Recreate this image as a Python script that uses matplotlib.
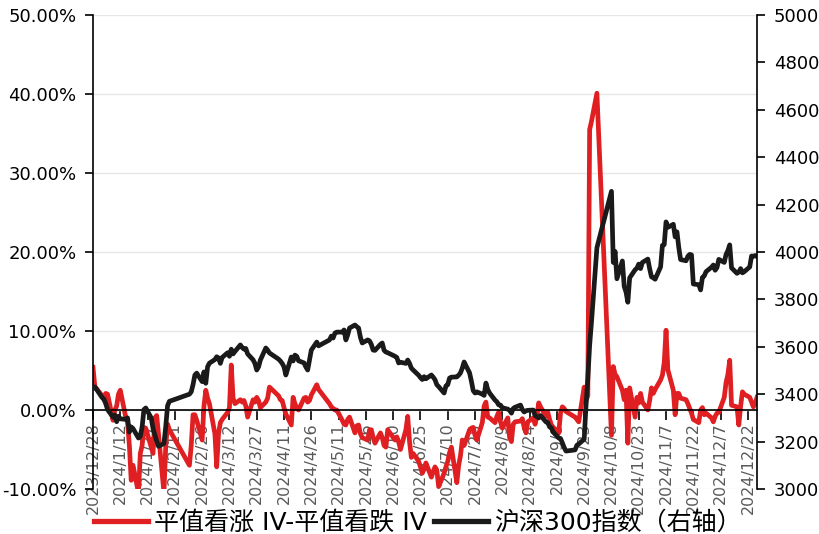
import matplotlib
matplotlib.use("Agg")
import matplotlib.pyplot as plt
import pandas as pd
import numpy as np

# ---------------- data ----------------
holidays = ["2024-01-01", "2024-02-09", "2024-02-12", "2024-02-13", "2024-02-14",
            "2024-02-15", "2024-02-16", "2024-04-04", "2024-04-05", "2024-05-01",
            "2024-05-02", "2024-05-03", "2024-06-10", "2024-09-16", "2024-09-17",
            "2024-10-01", "2024-10-02", "2024-10-03", "2024-10-04", "2024-10-07"]

start_date = "2023-12-28"
end_date = "2024-12-27"

# ATM call IV minus ATM put IV (%), by month
iv_dec23 = [5.4, 3.0]
iv_jan = [1.8, 1.3, 2.1, 2.0, -1.3, 0.0, 0.5, 2.0, 2.5, -0.9, -1.6, -4.5, -8.9, -7.0,
          -10.5, -5.5, -4.5, -2.2, -2.3, -4.7, -5.5, -1.0]
iv_feb = [-0.7, -3.0, -10.5, -4.5, -1.8, -2.5, -7.0, -4.5, -0.6, -0.6, -1.3, -3.8, 0.5, 2.5, 1.5]
iv_mar = [0.8, -3.0, -7.2, -3.0, -1.6, -1.2, -0.3, 0.3, 5.7, 1.5, 0.8, 1.3, 1.0, 1.2, 0.5,
          -0.9, 1.3, 1.0, 1.6, 1.2, 0.3]
iv_apr = [1.0, 1.5, 2.9, 1.8, 1.3, 1.2, 0.3, -0.5, -1.9, 1.6, 0.8, 0.2, 0.0, 1.5, 1.6,
          1.0, 1.2, 1.9, 3.2, 2.6]
iv_may = [0.8, 0.4, 0.2, 0.0, 0.0, -1.3, -1.8, -1.9, -1.2, -0.9, -2.9, -2.0, -1.9, -3.0,
          -3.5, -3.8, -2.5, -2.5, -3.5, -4.2]
iv_jun = [-2.9, -3.5, -4.5, -4.7, -2.5, -3.8, -3.4, -4.0, -5.0, -2.5, -0.8, -4.0, -6.0,
          -5.5, -6.5, -7.2, -8.0, -7.5, -6.7]
iv_jul = [-8.5, -7.8, -7.2, -7.6, -9.7, -8.0, -7.2, -6.5, -5.4, -4.7, -9.2, -7.0, -5.8,
          -3.8, -4.5, -2.5, -2.3, -2.2, -3.2, -3.8, -1.6, 0.5, 1.0]
iv_aug = [-0.9, -1.0, -1.6, -0.8, -0.3, -1.5, -2.3, -1.0, -3.5, -4.0, -1.8, -1.5, -1.4,
          -1.1, -2.2, -2.9, -1.5, -1.0, -1.8, -0.8, 0.9, 0.4]
iv_sep = [-0.8, -0.3, -1.2, -1.9, -2.2, -2.9, -0.4, 0.4, 0.2, -0.2, -0.9, -1.2, -1.5,
          2.9, 1.2, 1.8, 35.5, 36.5, 40.1]
iv_oct = [-3.2, 5.5, 4.5, 4.2, 2.5, 1.3, 2.5, -4.2, 2.8, -0.9, 1.6, 0.9, 2.1, 1.0, 0.0,
          1.2, 2.8, 2.1]
iv_nov = [2.6, 3.8, 4.4, 6.0, 10.1, 5.1, 2.5, -0.6, 2.1, 2.1, 1.5, 1.3, 0.8, 0.2, -0.4,
          -1.2, -1.6, 0.0, 0.3, -0.6, -0.4]
iv_dec = [-1.0, -1.5, -0.8, -0.4, -0.3, 1.6, 3.5, 4.5, 6.3, 0.6, 0.4, -1.9, 0.5, 2.3,
          2.0, 1.6, 1.0, 0.4, 0.8, 1.6]

# CSI 300 index (right axis), by month
hs_dec23 = [3425, 3431]
hs_jan = [3386, 3379, 3360, 3335, 3303, 3312, 3284, 3307, 3296, 3294, 3300, 3240, 3262,
          3255, 3215, 3222, 3262, 3335, 3342, 3300, 3255, 3228]
hs_feb = [3203, 3180, 3192, 3265, 3352, 3370, 3400, 3410, 3441, 3481, 3489, 3453, 3494,
          3446, 3516]
hs_mar = [3531, 3546, 3558, 3553, 3530, 3555, 3575, 3560, 3590, 3570, 3580, 3608, 3597,
          3590, 3593, 3570, 3545, 3530, 3502, 3515, 3544]
hs_apr = [3595, 3586, 3574, 3548, 3540, 3530, 3515, 3481, 3557, 3540, 3565, 3560, 3541,
          3532, 3515, 3502, 3545, 3586, 3620, 3604]
hs_may = [3629, 3645, 3637, 3658, 3662, 3662, 3671, 3629, 3650, 3679, 3692, 3685, 3679,
          3640, 3616, 3629, 3625, 3610, 3586, 3585]
hs_jun = [3610, 3616, 3585, 3578, 3575, 3560, 3555, 3532, 3535, 3530, 3544, 3530, 3510,
          3502, 3480, 3470, 3462, 3474, 3465]
hs_jul = [3481, 3472, 3461, 3440, 3432, 3405, 3435, 3440, 3468, 3472, 3473, 3480, 3490,
          3510, 3536, 3490, 3455, 3415, 3405, 3410, 3400, 3395, 3447]
hs_aug = [3420, 3405, 3375, 3368, 3355, 3354, 3343, 3337, 3332, 3320, 3340, 3345, 3354,
          3335, 3325, 3330, 3332, 3333, 3310, 3305, 3300, 3310]
hs_sep = [3283, 3280, 3262, 3258, 3240, 3215, 3213, 3195, 3175, 3160, 3165, 3185, 3190,
          3210, 3351, 3467, 3606, 3703, 4018]
hs_oct = [4256, 3956, 4002, 3887, 3962, 3855, 3831, 3788, 3891, 3925, 3932, 3949, 3930,
          3956, 3970, 3929, 3895, 3891]
hs_nov = [3885, 3937, 4028, 4031, 4127, 4104, 4117, 4064, 4085, 4019, 3968, 3963, 3982,
          3990, 3988, 3865, 3862, 3840, 3893, 3899, 3917]
hs_dec = [3936, 3945, 3923, 3934, 3969, 3956, 3990, 4006, 4030, 3933, 3910, 3915, 3930,
          3912, 3917, 3937, 3983, 3982, 3985, 3981]

x_tick_labels = ["2023/12/28", "2024/1/12", "2024/1/27", "2024/2/11", "2024/2/26",
                 "2024/3/12", "2024/3/27", "2024/4/11", "2024/4/26", "2024/5/11",
                 "2024/5/26", "2024/6/10", "2024/6/25", "2024/7/10", "2024/7/25",
                 "2024/8/9", "2024/8/24", "2024/9/8", "2024/9/23", "2024/10/8",
                 "2024/10/23", "2024/11/7", "2024/11/22", "2024/12/7", "2024/12/22"]

left_ticks = [-10, 0, 10, 20, 30, 40, 50]
right_ticks = [3000, 3200, 3400, 3600, 3800, 4000, 4200, 4400, 4600, 4800, 5000]

label_iv = "平值看涨 IV-平值看跌 IV"
label_hs = "沪深300指数（右轴）"

# ---------------- assemble ----------------
dates = pd.bdate_range(start_date, end_date)
dates = dates[~dates.isin(pd.to_datetime(holidays))]

iv = (iv_dec23 + iv_jan + iv_feb + iv_mar + iv_apr + iv_may + iv_jun + iv_jul + iv_aug
      + iv_sep + iv_oct + iv_nov + iv_dec)
hs = (hs_dec23 + hs_jan + hs_feb + hs_mar + hs_apr + hs_may + hs_jun + hs_jul + hs_aug
      + hs_sep + hs_oct + hs_nov + hs_dec)
n = min(len(dates), len(iv), len(hs))
dates, iv, hs = dates[:n], iv[:n], hs[:n]

RED = "#DF1F22"
BLACK = "#1A1A1A"
LW = 3.4

fig = plt.figure(figsize=(8.19, 5.34), dpi=100)
W, H = 819, 534
ax = fig.add_axes([93 / W, (H - 489) / H, (757 - 93) / W, (489 - 15) / H])

l1, = ax.plot(dates, iv, color=RED, lw=LW, solid_joinstyle="round", label=label_iv)
ax.set_ylim(-10, 50)
ax.set_xlim(pd.Timestamp(start_date), pd.Timestamp(end_date))
ax.set_yticks(left_ticks)
ax.set_yticklabels([f"{v:.2f}%" for v in left_ticks], fontsize=13, color="#000000",
                   family="DejaVu Sans")
ax.grid(axis="y", color="#E6E6E6", lw=1.0)
ax.set_axisbelow(True)

ax.spines["bottom"].set_position(("data", 0))
ax.spines["top"].set_visible(False)
ax.spines["right"].set_visible(False)
for s in ["left", "bottom"]:
    ax.spines[s].set_color("#000000")
    ax.spines[s].set_linewidth(1.2)

tick_pos = [pd.Timestamp(s.replace("/", "-")) for s in x_tick_labels]
ax.set_xticks(tick_pos)
ax.set_xticklabels(x_tick_labels, rotation=90, fontsize=11.5, color="#595959",
                   family="DejaVu Sans")
ax.tick_params(axis="x", direction="out", length=7, width=1.2, pad=2)
ax.tick_params(axis="y", direction="out", length=6, width=1.2, pad=6)

ax2 = ax.twinx()
l2, = ax2.plot(dates, hs, color=BLACK, lw=LW, solid_joinstyle="round", label=label_hs)
ax2.set_ylim(3000, 5000)
ax2.set_yticks(right_ticks)
ax2.set_yticklabels([str(v) for v in right_ticks], fontsize=13, color="#000000",
                    family="DejaVu Sans")
for s in ["top", "bottom", "left"]:
    ax2.spines[s].set_visible(False)
ax2.spines["right"].set_color("#000000")
ax2.spines["right"].set_linewidth(1.2)
ax2.tick_params(axis="y", direction="out", length=6, width=1.2, pad=6)

leg = fig.legend([l1, l2], [label_iv, label_hs], loc="center",
                 bbox_to_anchor=(418 / W, 1 - 523 / H), ncol=2, frameon=False,
                 prop={"family": ["DejaVu Sans", "Noto Sans CJK SC"], "size": 18},
                 handlelength=2.15, handletextpad=0.24, columnspacing=0.28,
                 borderpad=0, borderaxespad=0)
for h in leg.legend_handles:
    h.set_linewidth(3.8)

fig.savefig("out.png", dpi=100)
